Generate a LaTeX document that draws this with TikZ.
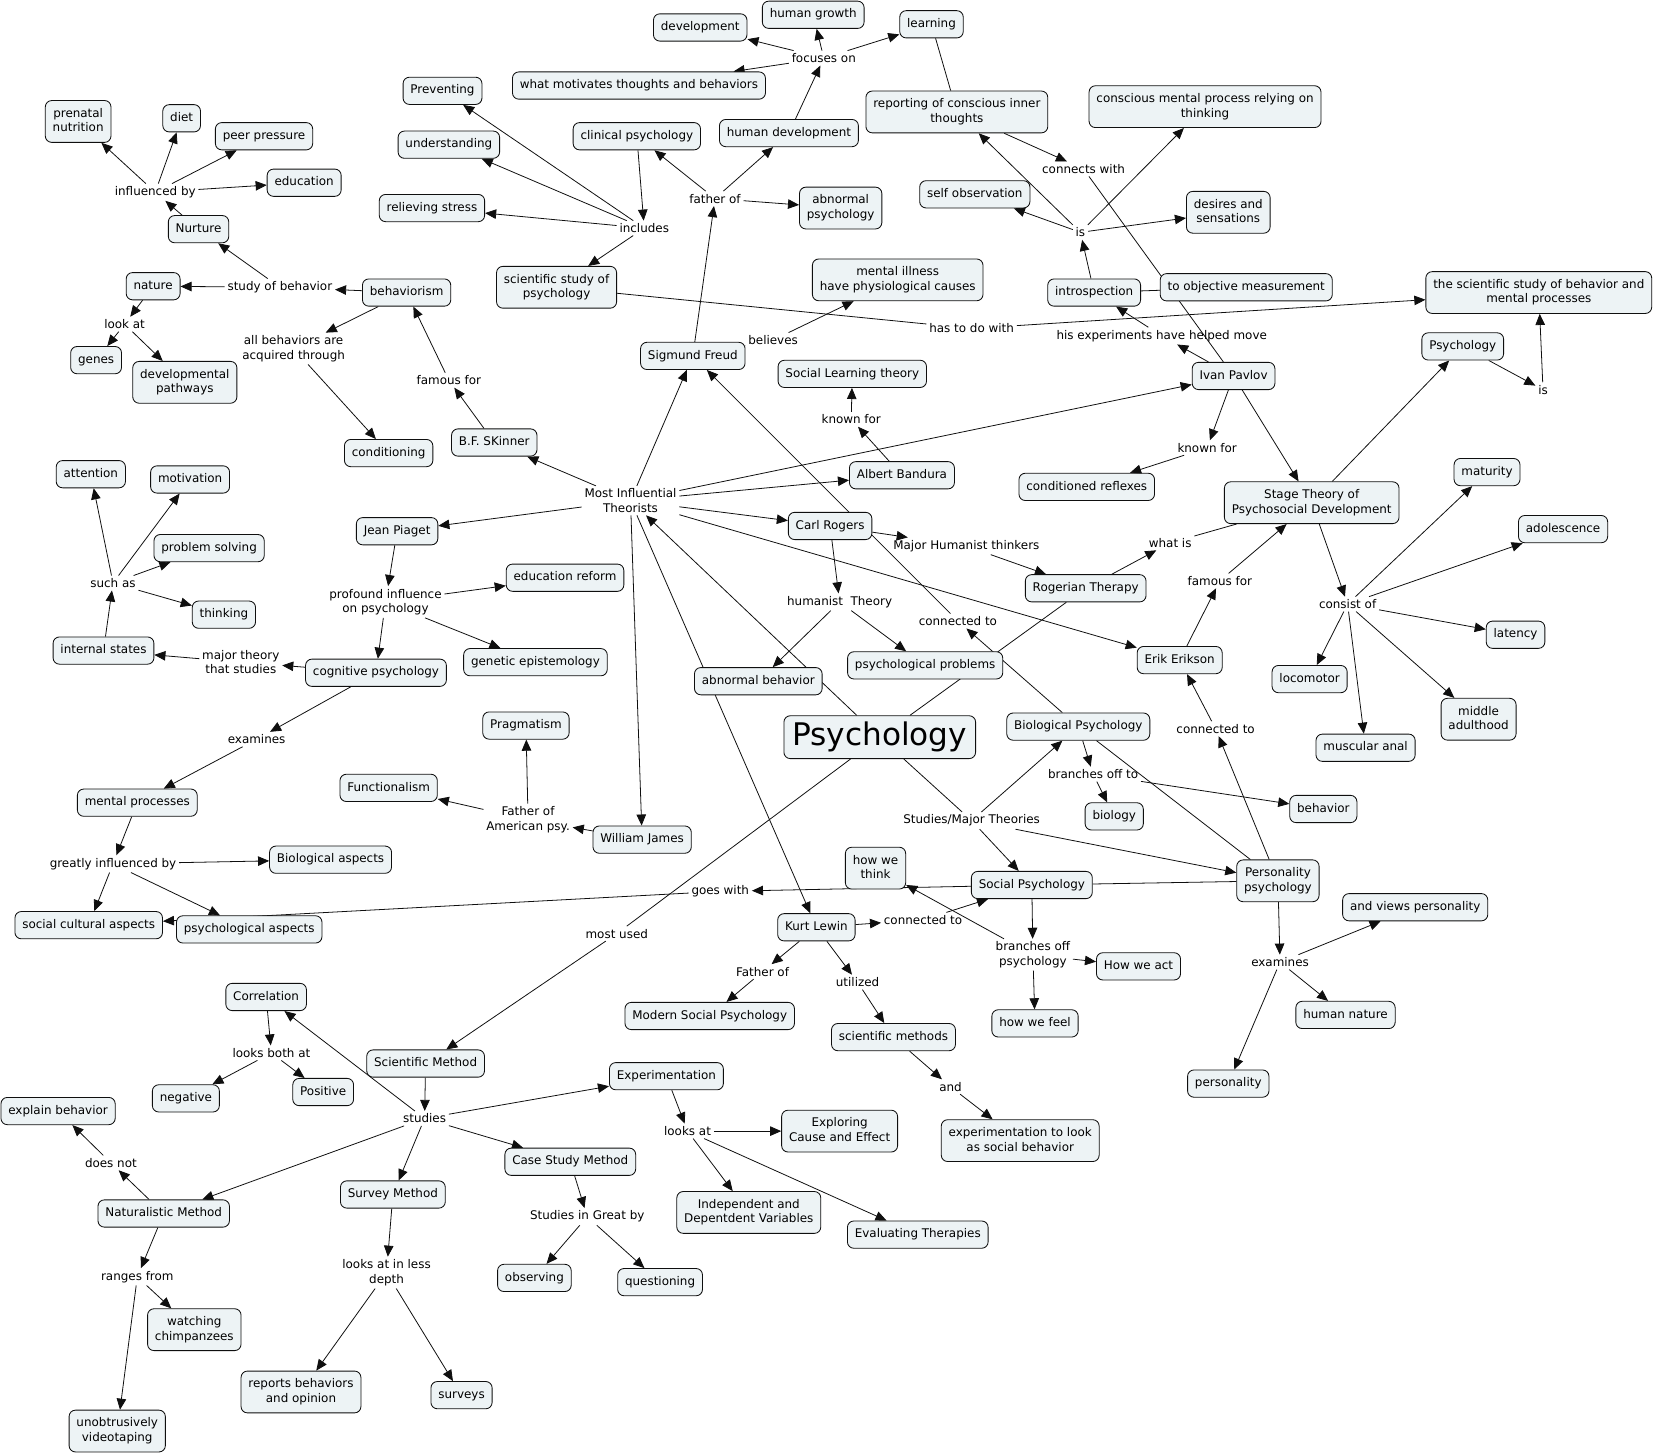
\documentclass[tikz,border=0pt]{standalone}
\usepackage{fontspec}
\setmainfont{DejaVu Sans}
\usetikzlibrary{arrows.meta}
\definecolor{cfill}{RGB}{237,243,245}
\definecolor{cline}{RGB}{15,15,15}
\pgfdeclarelayer{bg}
\pgfsetlayers{bg,main}
\tikzset{
 concept/.style={draw=cline, line width=0.8pt, fill=cfill, rounded corners=6pt,
   inner xsep=7pt, inner ysep=7.3pt, align=center, font=\fontsize{11.3}{13.8}\selectfont,
   execute at begin node={\rule{0pt}{8.6pt}}, execute at end node={\rule[-2.6pt]{0pt}{2.6pt}}},
 lab/.style={inner sep=2.5pt, align=center, font=\fontsize{11.3}{13.8}\selectfont},
 arr/.style={draw=cline, line width=0.75pt, -{Triangle[length=10.5pt,width=9pt]}},
 pln/.style={draw=cline, line width=0.75pt},
}
\begin{document}
\begin{tikzpicture}[x=1pt,y=-1pt]
\useasboundingbox (0,0) rectangle (1568,1378);
% ---------- concepts ----------
\node[concept] (dev) at (663,26) {development};
\node[concept] (hgrowth) at (770,14) {human growth};
\node[concept] (learning) at (882,23) {learning};
\node[concept] (motiv) at (605,81) {what motivates thoughts and behaviors};
\node[concept] (hdev) at (747,126) {human development};
\node[concept] (report) at (906,106) {reporting of conscious inner\\thoughts};
\node[concept] (conscious) at (1141,101) {conscious mental process relying on\\thinking};
\node[concept] (prevent) at (419,86) {Preventing};
\node[concept] (underst) at (425,137) {understanding};
\node[concept] (relieve) at (409,197) {relieving stress};
\node[concept] (clinical) at (603,129) {clinical psychology};
\node[concept] (abpsy) at (796,197) {abnormal\\psychology};
\node[concept] (scistudy) at (527,272) {scientific study of\\psychology};
\node[concept] (selfobs) at (923,184) {self observation};
\node[concept] (desires) at (1163,201) {desires and\\sensations};
\node[concept] (intro) at (1036,277) {introspection};
\node[concept] (objmeas) at (1180,272) {to objective measurement};
\node[concept] (mental) at (850,265) {mental illness\\have physiological causes};
\node[concept] (scibeh) at (1457,277) {the scientific study of behavior and\\mental processes};
\node[concept] (freud) at (656,337) {Sigmund Freud};
\node[concept] (psysmall) at (1385,328) {Psychology};
\node[concept] (pavlov) at (1168,356) {Ivan Pavlov};
\node[concept] (slt) at (807,354) {Social Learning theory};
\node[concept] (condref) at (1029,461) {conditioned reflexes};
\node[concept] (bandura) at (854,450) {Albert Bandura};
\node[concept] (prenatal) at (74,115) {prenatal\\nutrition};
\node[concept] (diet) at (172,112) {diet};
\node[concept] (peer) at (250,129) {peer pressure};
\node[concept] (educ) at (288,173) {education};
\node[concept] (nurture) at (188,217) {Nurture};
\node[concept] (nature) at (145,271) {nature};
\node[concept] (behav) at (385,277) {behaviorism};
\node[concept] (genes) at (91,341) {genes};
\node[concept] (devpath) at (175,362) {developmental\\pathways};
\node[concept] (condit) at (368,429) {conditioning};
\node[concept] (skinner) at (468,419) {B.F. SKinner};
\node[concept] (attention) at (86,449) {attention};
\node[concept] (motivation) at (180,454) {motivation};
\node[concept] (probsolv) at (198,519) {problem solving};
\node[concept] (thinking) at (212,582) {thinking};
\node[concept] (internal) at (98,616) {internal states};
\node[concept] (piaget) at (376,503) {Jean Piaget};
\node[concept] (edreform) at (535,547) {education reform};
\node[concept] (genepist) at (507,627) {genetic epistemology};
\node[concept] (cogpsy) at (356,637) {cognitive psychology};
\node[concept] (pragma) at (498,687) {Pragmatism};
\node[concept] (functio) at (368,746) {Functionalism};
\node[concept] (james) at (608,795) {William James};
\node[concept] (mentproc) at (130,760) {mental processes};
\node[concept] (bioasp) at (313,814) {Biological aspects};
\node[concept] (socult) at (84,876) {social cultural aspects};
\node[concept] (psyasp) at (236,880) {psychological aspects};
\node[concept] (rogers) at (786,498) {Carl Rogers};
\node[concept] (rogerian) at (1028,557) {Rogerian Therapy};
\node[concept] (stage) at (1242,476) {Stage Theory of\\Psychosocial Development};
\node[concept] (psyprob) at (876,630) {psychological problems};
\node[concept] (abbeh) at (718,645) {abnormal behavior};
\node[concept] (erikson) at (1117,625) {Erik Erikson};
\node[concept, font=\fontsize{29.5}{34}\selectfont, inner xsep=8pt, inner ysep=6pt] (psych) at (833,698) {Psychology};
\node[concept] (biopsy) at (1021,688) {Biological Psychology};
\node[concept] (biology) at (1055,773) {biology};
\node[concept] (behavior) at (1253,766) {behavior};
\node[concept] (perspsy) at (1210,834) {Personality\\psychology};
\node[concept] (howthink) at (829,822) {how we\\think};
\node[concept] (socpsy) at (977,838) {Social Psychology};
\node[concept] (lewin) at (773,878) {Kurt Lewin};
\node[concept] (howact) at (1078,915) {How we act};
\node[concept] (modsoc) at (672,962) {Modern Social Psychology};
\node[concept] (howfeel) at (980,969) {how we feel};
\node[concept] (scimeth) at (846,982) {scientific methods};
\node[concept] (experlook) at (966,1080) {experimentation to look\\as social behavior};
\node[concept] (maturity) at (1408,447) {maturity};
\node[concept] (adolesc) at (1480,501) {adolescence};
\node[concept] (latency) at (1435,601) {latency};
\node[concept] (locomotor) at (1240,643) {locomotor};
\node[concept] (middle) at (1400,681) {middle\\adulthood};
\node[concept] (muscular) at (1293,708) {muscular anal};
\node[concept] (views) at (1340,859) {and views personality};
\node[concept] (humnat) at (1274,961) {human nature};
\node[concept] (personality) at (1163,1026) {personality};
\node[concept] (correl) at (252,944) {Correlation};
\node[concept] (negative) at (176,1040) {negative};
\node[concept] (positive) at (306,1034) {Positive};
\node[concept] (scimethod) at (403,1007) {Scientific Method};
\node[concept] (experim) at (631,1019) {Experimentation};
\node[concept] (explain) at (55,1052) {explain behavior};
\node[concept] (exploring) at (795,1071) {Exploring\\Cause and Effect};
\node[concept] (casestudy) at (540,1100) {Case Study Method};
\node[concept] (natural) at (155,1149) {Naturalistic Method};
\node[concept] (survey) at (372,1131) {Survey Method};
\node[concept] (indep) at (709,1148) {Independent and\\Depentdent Variables};
\node[concept] (evalther) at (869,1169) {Evaluating Therapies};
\node[concept] (observing) at (506,1210) {observing};
\node[concept] (questioning) at (625,1214) {questioning};
\node[concept] (chimp) at (184,1259) {watching\\chimpanzees};
\node[concept] (reports) at (285,1318) {reports behaviors\\and opinion};
\node[concept] (surveys) at (437,1321) {surveys};
\node[concept] (video) at (111,1355) {unobtrusively\\videotaping};
% ---------- linking phrases ----------
\node[lab] (lfocus) at (780,55) {focuses on};
\node[lab] (lincl) at (610,216) {includes};
\node[lab] (lfather) at (677,188) {father of};
\node[lab] (lconn) at (1026,160) {connects with};
\node[lab] (lis) at (1023,220) {is};
\node[lab] (lhastodo) at (920,311) {has to do with};
\node[lab] (lexper) at (1100,318) {his experiments have helped move};
\node[lab] (lbelieves) at (732,322) {believes};
\node[lab] (lis2) at (1461,369) {is};
\node[lab] (lknown1) at (806,397) {known for};
\node[lab] (lknown2) at (1143,424) {known for};
\node[lab] (linfl) at (147,182) {influenced by};
\node[lab] (lstudyb) at (265,272) {study of behavior};
\node[lab] (llookat) at (118,307) {look at};
\node[lab] (lallbeh) at (278,330) {all behaviors are\\acquired through};
\node[lab] (lfamous) at (425,360) {famous for};
\node[lab] (lsuchas) at (107,552) {such as};
\node[lab] (lmajor) at (228,627) {major theory\\that studies};
\node[lab] (ltheor) at (597,474) {Most Influential\\Theorists};
\node[lab] (lprofound) at (365,570) {profound influence\\on psychology};
\node[lab] (lexamines) at (243,700) {examines};
\node[lab] (lfatheram) at (500,776) {Father of\\American psy.};
\node[lab] (lgreatly) at (107,818) {greatly influenced by};
\node[lab] (lhumanist) at (795,570) {humanist~\ Theory};
\node[lab] (lmajhum) at (915,517) {Major Humanist thinkers};
\node[lab] (lwhatis) at (1108,514) {what is};
\node[lab] (lfamous2) at (1155,550) {famous for};
\node[lab] (lconn2) at (907,588) {connected to};
\node[lab] (lconn3) at (1151,690) {connected to};
\node[lab] (lbranch) at (1035,733) {branches off to};
\node[lab] (lstudies) at (920,777) {Studies/Major Theories};
\node[lab] (lgoes) at (682,844) {goes with};
\node[lab] (lmost) at (584,884) {most used};
\node[lab] (lconn4) at (874,871) {connected to};
\node[lab] (lbranch2) at (978,904) {branches off\\psychology};
\node[lab] (lfatherof) at (722,920) {Father of};
\node[lab] (lutil) at (812,930) {utilized};
\node[lab] (land) at (900,1029) {and};
\node[lab] (lconsist) at (1276,572) {consist of};
\node[lab] (lexam2) at (1212,911) {examines};
\node[lab] (llookboth) at (257,997) {looks both at};
\node[lab] (lstudies2) at (402,1059) {studies};
\node[lab] (ldoesnot) at (105,1101) {does not};
\node[lab] (llooks) at (651,1071) {looks at};
\node[lab] (lgreat) at (556,1152) {Studies in Great by};
\node[lab] (lranges) at (130,1209) {ranges from};
\node[lab] (lless) at (366,1205) {looks at in less\\depth};
% ---------- connectors ----------
\begin{pgfonlayer}{bg}
\fill[white] (0,0) rectangle (1568,1378);
\foreach \t in {dev,hgrowth,learning,motiv} \draw[arr] (lfocus) -- (\t);
\draw[arr] (hdev) -- (lfocus);
\draw[pln] (learning) -- (report);
\draw[arr] (report) -- (lconn);
\draw[pln] (lconn) -- (pavlov);
\foreach \t in {report,selfobs,desires,conscious} \draw[arr] (lis) -- (\t);
\draw[arr] (intro) -- (lis);
\draw[pln] (intro) -- (objmeas);
\draw[arr] (pavlov) -- (lexper);
\draw[arr] (lexper) -- (intro);
\draw[arr] (pavlov) -- (lknown2);
\draw[arr] (lknown2) -- (condref);
\draw[arr] (pavlov) -- (stage);
\draw[arr] (stage) -- (psysmall);
\draw[arr] (psysmall) -- (lis2);
\draw[arr] (lis2) -- (scibeh);
\draw[arr] (clinical) -- (lincl);
\foreach \t in {prevent,underst,relieve,scistudy} \draw[arr] (lincl) -- (\t);
\foreach \t in {clinical,hdev,abpsy} \draw[arr] (lfather) -- (\t);
\draw[arr] (freud) -- (lfather);
\draw[pln] (freud) -- (lbelieves);
\draw[arr] (lbelieves) -- (mental);
\draw[pln] (scistudy) -- (lhastodo);
\draw[arr] (lhastodo) -- (scibeh);
\foreach \t in {freud,skinner,piaget,bandura,pavlov,rogers,erikson,james,lewin} \draw[arr] (ltheor) -- (\t);
\draw[arr] (psych) -- (ltheor);
\draw[arr] (bandura) -- (lknown1);
\draw[arr] (lknown1) -- (slt);
\draw[arr] (skinner) -- (lfamous);
\draw[arr] (lfamous) -- (behav);
\draw[arr] (behav) -- (lstudyb);
\foreach \t in {nature,nurture} \draw[arr] (lstudyb) -- (\t);
\draw[arr] (behav) -- (lallbeh);
\draw[arr] (lallbeh) -- (condit);
\draw[arr] (nurture) -- (linfl);
\foreach \t in {prenatal,diet,peer,educ} \draw[arr] (linfl) -- (\t);
\draw[arr] (nature) -- (llookat);
\foreach \t in {genes,devpath} \draw[arr] (llookat) -- (\t);
\draw[arr] (piaget) -- (lprofound);
\foreach \t in {edreform,genepist,cogpsy} \draw[arr] (lprofound) -- (\t);
\draw[arr] (cogpsy) -- (lmajor);
\draw[arr] (lmajor) -- (internal);
\draw[arr] (internal) -- (lsuchas);
\foreach \t in {attention,motivation,probsolv,thinking} \draw[arr] (lsuchas) -- (\t);
\draw[arr] (cogpsy) -- (lexamines);
\draw[arr] (lexamines) -- (mentproc);
\draw[arr] (mentproc) -- (lgreatly);
\foreach \t in {bioasp,socult,psyasp} \draw[arr] (lgreatly) -- (\t);
\draw[arr] (james) -- (lfatheram);
\foreach \t in {functio,pragma} \draw[arr] (lfatheram) -- (\t);
\draw[arr] (rogers) -- (lmajhum);
\draw[arr] (lmajhum) -- (rogerian);
\draw[arr] (rogers) -- (lhumanist);
\foreach \t in {psyprob,abbeh} \draw[arr] (lhumanist) -- (\t);
\draw[arr] (lconn2) -- (freud);
\draw[arr] (biopsy) -- (lconn2);
\draw[pln] (psych) -- (rogerian);
\draw[arr] (rogerian) -- (lwhatis);
\draw[pln] (lwhatis) -- (stage);
\draw[arr] (erikson) -- (lfamous2);
\draw[arr] (lfamous2) -- (stage);
\draw[arr] (perspsy) -- (lconn3);
\draw[arr] (lconn3) -- (erikson);
\draw[arr] (stage) -- (lconsist);
\foreach \t in {maturity,adolesc,latency,locomotor,middle,muscular} \draw[arr] (lconsist) -- (\t);
\draw[pln] (psych) -- (lstudies);
\foreach \t in {biopsy,socpsy,perspsy} \draw[arr] (lstudies) -- (\t);
\draw[arr] (biopsy) -- (lbranch);
\foreach \t in {biology,behavior} \draw[arr] (lbranch) -- (\t);
\draw[pln] (biopsy) -- (perspsy);
\draw[pln] (socpsy) -- (perspsy);
\draw[arr] (socpsy) -- (lgoes);
\draw[arr] (lgoes) -- (socult);
\draw[pln] (psych) -- (lmost);
\draw[arr] (lmost) -- (scimethod);
\draw[arr] (lewin) -- (lconn4);
\draw[arr] (lconn4) -- (socpsy);
\draw[arr] (socpsy) -- (lbranch2);
\foreach \t in {howact,howfeel,howthink} \draw[arr] (lbranch2) -- (\t);
\draw[arr] (lewin) -- (lfatherof);
\draw[arr] (lfatherof) -- (modsoc);
\draw[arr] (lewin) -- (lutil);
\draw[arr] (lutil) -- (scimeth);
\draw[arr] (scimeth) -- (land);
\draw[arr] (land) -- (experlook);
\draw[arr] (perspsy) -- (lexam2);
\foreach \t in {views,humnat,personality} \draw[arr] (lexam2) -- (\t);
\draw[arr] (scimethod) -- (lstudies2);
\foreach \t in {experim,casestudy,survey,natural,correl} \draw[arr] (lstudies2) -- (\t);
\draw[arr] (correl) -- (llookboth);
\foreach \t in {negative,positive} \draw[arr] (llookboth) -- (\t);
\draw[arr] (experim) -- (llooks);
\foreach \t in {exploring,indep,evalther} \draw[arr] (llooks) -- (\t);
\draw[arr] (casestudy) -- (lgreat);
\foreach \t in {observing,questioning} \draw[arr] (lgreat) -- (\t);
\draw[arr] (survey) -- (lless);
\foreach \t in {reports,surveys} \draw[arr] (lless) -- (\t);
\draw[arr] (natural) -- (ldoesnot);
\draw[arr] (ldoesnot) -- (explain);
\draw[arr] (natural) -- (lranges);
\foreach \t in {chimp,video} \draw[arr] (lranges) -- (\t);
\end{pgfonlayer}
\end{tikzpicture}
\end{document}
